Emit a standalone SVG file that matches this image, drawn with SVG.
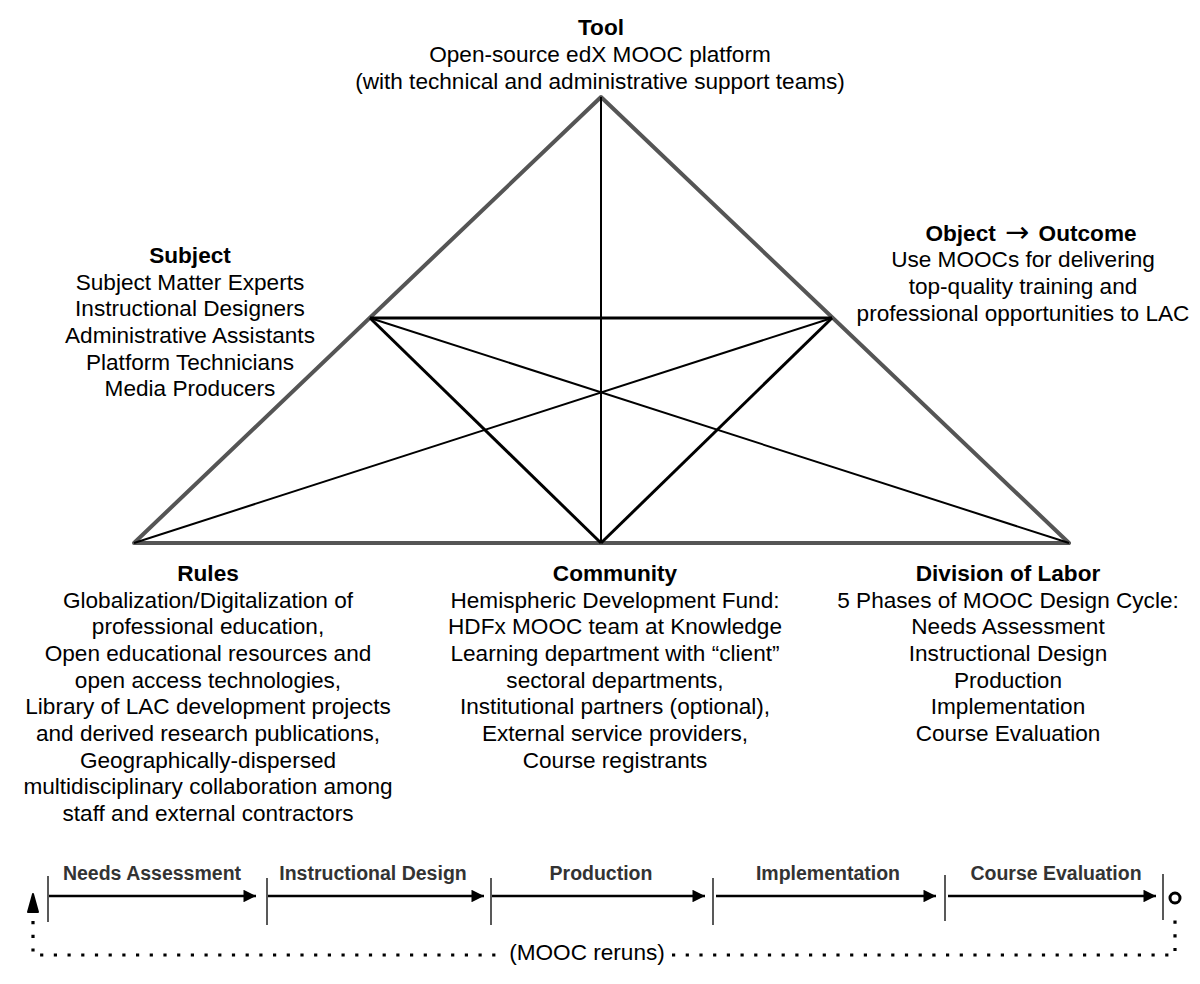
<svg xmlns="http://www.w3.org/2000/svg" width="1200" height="984" viewBox="0 0 1200 984">
<style>
.t{font-family:"Liberation Sans",Arial,sans-serif;font-size:22.6px;fill:#000;text-anchor:middle}
.h{font-weight:bold}
.ar{font-family:"DejaVu Sans",sans-serif;font-weight:normal;font-size:29px}
.p{font-family:"Liberation Sans",Arial,sans-serif;font-size:19.5px;font-weight:bold;fill:#333;text-anchor:middle}
.outer{fill:none;stroke:#555;stroke-width:4;stroke-linejoin:round}
.thick{stroke:#000;stroke-width:3;fill:none}
.thin{stroke:#000;stroke-width:2;fill:none}
.tick{stroke:#222;stroke-width:1.5}
.arr{stroke:#000;stroke-width:2.5;fill:none;marker-end:url(#ah)}
.dot{stroke:#000;stroke-width:3.2;fill:none;stroke-dasharray:3.2 10.5}
</style>
<defs>
<marker id="ah" viewBox="0 0 10 10" refX="10" refY="5" markerWidth="6" markerHeight="5" markerUnits="strokeWidth" orient="auto">
<path d="M0,0 L10,5 L0,10 z" fill="#000"/>
</marker>
</defs>
<rect width="1200" height="984" fill="#fff"/>
<g id="connectors">
<polygon class="outer" points="601,97 1069,543 134,543"/>
<line class="thin" x1="601" y1="97" x2="601" y2="543"/>
<line class="thick" x1="370" y1="318" x2="832" y2="318"/>
<line class="thick" x1="370" y1="318" x2="601" y2="543"/>
<line class="thick" x1="832" y1="318" x2="601" y2="543"/>
<line class="thin" x1="370" y1="318" x2="1069" y2="543"/>
<line class="thin" x1="832" y1="318" x2="134" y2="543"/>
</g>
<g id="tool">
<text class="t h" x="601" y="35">Tool</text>
<text class="t" x="600" y="62">Open-source edX MOOC platform</text>
<text class="t" x="600" y="89">(with technical and administrative support teams)</text>
</g>
<g id="subject">
<text class="t h" x="190" y="263">Subject</text>
<text class="t" x="190" y="290">Subject Matter Experts</text>
<text class="t" x="190" y="316">Instructional Designers</text>
<text class="t" x="190" y="343">Administrative Assistants</text>
<text class="t" x="190" y="370">Platform Technicians</text>
<text class="t" x="190" y="396">Media Producers</text>
</g>
<g id="object">
<text class="t h" x="1031" y="241">Object <tspan class="ar" dx="3" dy="1">→</tspan><tspan dx="3" dy="-1"> Outcome</tspan></text>
<text class="t" x="1023" y="267">Use MOOCs for delivering</text>
<text class="t" x="1023" y="294">top-quality training and</text>
<text class="t" x="1023" y="321">professional opportunities to LAC</text>
</g>
<g id="rules">
<text class="t h" x="208" y="581">Rules</text>
<text class="t" x="208" y="608">Globalization/Digitalization of</text>
<text class="t" x="208" y="634">professional education,</text>
<text class="t" x="208" y="661">Open educational resources and</text>
<text class="t" x="208" y="688">open access technologies,</text>
<text class="t" x="208" y="714">Library of LAC development projects</text>
<text class="t" x="208" y="741">and derived research publications,</text>
<text class="t" x="208" y="768">Geographically-dispersed</text>
<text class="t" x="208" y="794">multidisciplinary collaboration among</text>
<text class="t" x="208" y="821">staff and external contractors</text>
</g>
<g id="community">
<text class="t h" x="615" y="581">Community</text>
<text class="t" x="615" y="608">Hemispheric Development Fund:</text>
<text class="t" x="615" y="634">HDFx MOOC team at Knowledge</text>
<text class="t" x="615" y="661">Learning department with “client”</text>
<text class="t" x="615" y="688">sectoral departments,</text>
<text class="t" x="615" y="714">Institutional partners (optional),</text>
<text class="t" x="615" y="741">External service providers,</text>
<text class="t" x="615" y="768">Course registrants</text>
</g>
<g id="division">
<text class="t h" x="1008" y="581">Division of Labor</text>
<text class="t" x="1008" y="608">5 Phases of MOOC Design Cycle:</text>
<text class="t" x="1008" y="634">Needs Assessment</text>
<text class="t" x="1008" y="661">Instructional Design</text>
<text class="t" x="1008" y="688">Production</text>
<text class="t" x="1008" y="714">Implementation</text>
<text class="t" x="1008" y="741">Course Evaluation</text>
</g>
<g id="timeline">
<line class="tick" x1="48" y1="876" x2="48" y2="922"/>
<line class="tick" x1="267" y1="878" x2="267" y2="925"/>
<line class="tick" x1="491" y1="878" x2="491" y2="925"/>
<line class="tick" x1="713" y1="878" x2="713" y2="925"/>
<line class="tick" x1="945" y1="875" x2="945" y2="921"/>
<line class="tick" x1="1163" y1="874" x2="1163" y2="920"/>
<line class="arr" x1="49" y1="896" x2="256" y2="896"/>
<line class="arr" x1="268" y1="896" x2="484" y2="896"/>
<line class="arr" x1="492" y1="896" x2="705" y2="896"/>
<line class="arr" x1="716" y1="896" x2="936" y2="896"/>
<line class="arr" x1="948" y1="896" x2="1156" y2="896"/>
<text class="p" x="152" y="880">Needs Assessment</text>
<text class="p" x="373" y="880">Instructional Design</text>
<text class="p" x="601" y="880">Production</text>
<text class="p" x="828" y="880">Implementation</text>
<text class="p" x="1056" y="880">Course Evaluation</text>
</g>
<g id="reruns">
<path d="M33,894 L28,912 L38,912 z" fill="#000" stroke="#000" stroke-width="2" stroke-linejoin="round"/>
<path class="dot" d="M33,921 L33,955 L505,955"/>
<path class="dot" d="M672,955 L1175,955 L1175,914"/>
<circle cx="1175" cy="898" r="5" fill="#fff" stroke="#000" stroke-width="3"/>
<text class="t" x="587" y="960">(MOOC reruns)</text>
</g>
</svg>
